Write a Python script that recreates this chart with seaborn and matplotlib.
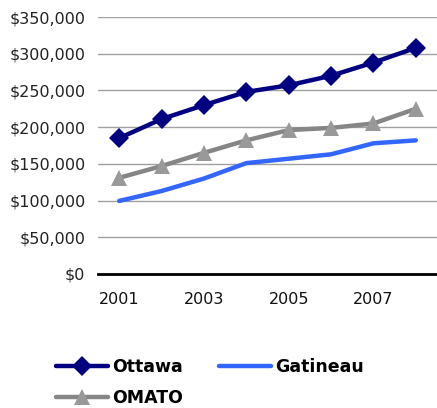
import matplotlib
matplotlib.use("Agg")
import matplotlib.pyplot as plt
import seaborn as sns
import pandas as pd
from matplotlib.ticker import FuncFormatter, FixedLocator

years = [2001, 2002, 2003, 2004, 2005, 2006, 2007, 2008]
ottawa = [185000, 211000, 230000, 248000, 257000, 270000, 288000, 308000]
gatineau = [99500, 113000, 130000, 151000, 157000, 163000, 178000, 182000]
omato = [131000, 147000, 165000, 182000, 196000, 199000, 205000, 225000]
year_labels = ["2001", "2003", "2005", "2007"]

sns.set_theme(style="white")
plt.rcParams["font.family"] = ["DejaVu Sans"]

fig = plt.figure(figsize=(4.37, 4.08), dpi=100)
W, H = 437, 408
ax = fig.add_axes([98 / W, (H - 274) / H, (437 - 98) / W, (274 - 17) / H])

pos = list(range(len(years)))
df = pd.DataFrame({"pos": pos, "Ottawa": ottawa, "Gatineau": gatineau, "OMATO": omato})

sns.lineplot(data=df, x="pos", y="Ottawa", ax=ax, color="#000080", lw=3.2,
             marker="D", markersize=10, markeredgewidth=0, label="Ottawa", zorder=4)
sns.lineplot(data=df, x="pos", y="Gatineau", ax=ax, color="#3366FF", lw=3.2,
             label="Gatineau", zorder=3)
sns.lineplot(data=df, x="pos", y="OMATO", ax=ax, color="#868686", lw=3.2,
             marker="^", markersize=12, markerfacecolor="#999999",
             markeredgewidth=0, label="OMATO", zorder=3)

ax.set_xlim(-0.5, len(years) - 0.5)
ax.set_ylim(0, 350000)
ax.set_yticks(range(0, 350001, 50000))
ax.yaxis.set_major_formatter(FuncFormatter(lambda v, _: f"${int(v):,}"))
ax.grid(axis="y", color="#A0A0A0", lw=1)
ax.set_axisbelow(True)

ax.set_xticks([years.index(int(y)) for y in year_labels])
ax.set_xticklabels(year_labels)
ax.xaxis.set_minor_locator(FixedLocator([i - 0.5 for i in range(len(years) + 1)]))
ax.tick_params(axis="x", which="major", length=0, pad=13, labelsize=11.5, colors="#111111")
ax.tick_params(axis="x", which="minor", length=5, width=1.5, color="black", direction="out")
ax.tick_params(axis="y", length=0, pad=9, labelsize=11.5, colors="#222222")
ax.set_xlabel("")
ax.set_ylabel("")

for s in ["left", "right", "top"]:
    ax.spines[s].set_visible(False)
ax.spines["bottom"].set_color("black")
ax.spines["bottom"].set_linewidth(2)

handles, labels = ax.get_legend_handles_labels()
ax.legend_.remove()
order = [labels.index(n) for n in ["Ottawa", "OMATO", "Gatineau"]]
leg = fig.legend([handles[i] for i in order], [labels[i] for i in order], ncol=2,
                 loc="upper left", bbox_to_anchor=(49 / W, 1 - 351 / H), frameon=False,
                 prop={"weight": "bold", "size": 12.5}, handlelength=3.0,
                 handletextpad=0.25, columnspacing=2.05, labelspacing=0.75,
                 borderaxespad=0)
for t in leg.get_texts():
    t.set_color("black")

fig.savefig("out.png", dpi=100)
